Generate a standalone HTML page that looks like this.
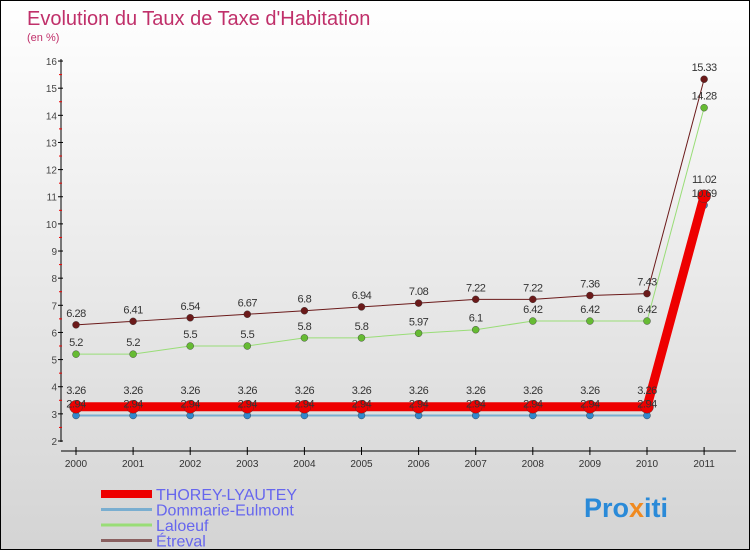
<!DOCTYPE html>
<html><head><meta charset="utf-8"><style>
body{margin:0}
#c{width:748px;height:548px;border:1px solid #000;background:linear-gradient(#fff,#d4d4d4);position:relative;font-family:"Liberation Sans",sans-serif;overflow:hidden}
</style></head><body>
<div id="c">
<svg id="s" width="748" height="548" style="position:absolute;left:0;top:0">
<text x="26" y="24" font-size="20" fill="#c0306a">Evolution du Taux de Taxe d'Habitation</text>
<text x="26" y="40" font-size="11" fill="#c0306a">(en %)</text>
<g id="axes"></g><g id="series"></g><g id="legend"></g>
<text x="583" y="516" font-size="27" font-weight="bold" fill="#2a8ad8">Pro<tspan fill="#f08a20">x</tspan>iti</text>
</svg>
</div>
<script>
const years=["2000","2001","2002","2003","2004","2005","2006","2007","2008","2009","2010","2011"];
const yTicks=[2,3,4,5,6,7,8,9,10,11,12,13,14,15,16];
const thorey=[3.26,3.26,3.26,3.26,3.26,3.26,3.26,3.26,3.26,3.26,3.26,11.02];
const dommarie=[2.94,2.94,2.94,2.94,2.94,2.94,2.94,2.94,2.94,2.94,2.94,10.69];
const laloeuf=[5.2,5.2,5.5,5.5,5.8,5.8,5.97,6.1,6.42,6.42,6.42,14.28];
const etreval=[6.28,6.41,6.54,6.67,6.8,6.94,7.08,7.22,7.22,7.36,7.43,15.33];
const names=["THOREY-LYAUTEY","Dommarie-Eulmont","Laloeuf","Étreval"];
const NS="http://www.w3.org/2000/svg";
function X(i){return 75+i*57.1;}
function Y(v){return 440-(v-2)*27.14;}
function mk(t,a,p){const e=document.createElementNS(NS,t);for(const k in a)e.setAttribute(k,a[k]);p.appendChild(e);return e;}
const ax=document.getElementById('axes');
let l=mk('line',{x1:60,y1:58,x2:60,y2:441,stroke:'#000'},ax);


l=mk('line',{x1:60,y1:450,x2:735,y2:450,stroke:'#000'},ax);


yTicks.forEach(v=>{
  mk('line',{x1:57,x2:62,y1:Y(v),y2:Y(v),stroke:'#000'},ax);
  if(v<16) mk('line',{x1:58,x2:61,y1:Y(v+0.5),y2:Y(v+0.5),stroke:'#e00'},ax);
  const t=mk('text',{x:56,y:Y(v)+4,'font-size':10,fill:'#444','text-anchor':'end'},ax);t.textContent=v;
  
  
});
years.forEach((y,i)=>{
  mk('line',{x1:X(i),x2:X(i),y1:446,y2:454,stroke:'#000'},ax);
  const t=mk('text',{x:X(i),y:466,'font-size':10,fill:'#333','text-anchor':'middle'},ax);t.textContent=y;
  
  
});
const sg=document.getElementById('series');
const defs=[[etreval,'#6b1a1a','#6b1a1a',1,3.5,'#8a6060'],[laloeuf,'#99dd77','#66bb33',1,3.5,'#88cc66'],[dommarie,'#7aaed0','#3388cc',2,3.5,'#7aaed0'],[thorey,'#ee0000','#ee0000',9,6.5,'#ee0000']];
const keys=['etreval','laloeuf','dommarie','thorey'];
defs.forEach((d,k)=>{
  const pts=d[0].map((v,i)=>X(i)+','+Y(v)).join(' ');
  const p=mk('polyline',{points:pts,fill:'none',stroke:d[1],'stroke-width':d[3]},sg);
  
  
  d[0].forEach((v,i)=>{
    const c=mk('circle',{cx:X(i),cy:Y(v),r:d[4],fill:d[2],stroke:'#333','stroke-width':0.4},sg);
    
    
  });
});
[etreval,laloeuf,thorey,dommarie].forEach((arr,k)=>{
  arr.forEach((v,i)=>{
    const t=mk('text',{x:X(i),y:Y(v)-(k==2?13:8),'font-size':11,fill:'#333','text-anchor':'middle','letter-spacing':'-0.5'},sg);
    t.textContent=v;
    
    
  });
});
const lg=document.getElementById('legend');
const lc=['#ee0000','#7aaed0','#99dd77','#8a6060'],lw=[8,3,3,3];
names.forEach((n,i)=>{
  const y=493+i*15.5;
  mk('line',{x1:100,x2:151,y1:y,y2:y,stroke:lc[i],'stroke-width':lw[i]},lg);
  const t=mk('text',{x:155,y:y+6,'font-size':16,fill:'#6666ee'},lg);t.textContent=n;
  
  
});
</script>
</body></html>
